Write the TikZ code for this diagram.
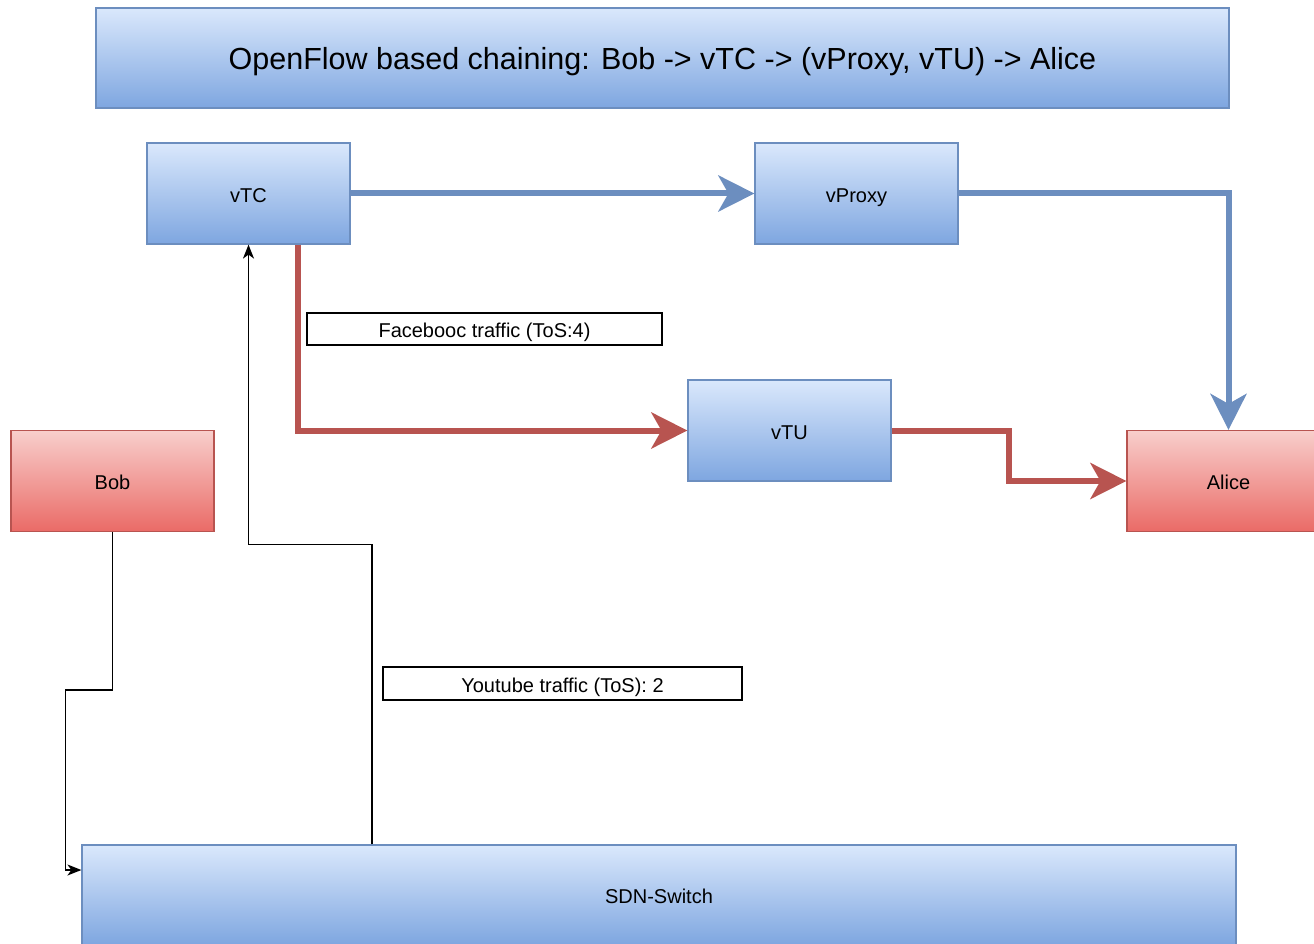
\documentclass[tikz,border=0pt]{standalone}
\usepackage{fontspec}
\setmainfont{Liberation Sans}
\usetikzlibrary{arrows.meta}
\definecolor{blueFillTop}{HTML}{DAE8FC}
\definecolor{blueFillBot}{HTML}{7EA6E0}
\definecolor{blueLine}{HTML}{6C8EBF}
\definecolor{redFillTop}{HTML}{F8CECC}
\definecolor{redFillBot}{HTML}{EA6B66}
\definecolor{redLine}{HTML}{B85450}
\tikzset{
  textfit/.style={text height=22pt, text depth=4.6pt, font=\fontsize{20}{24}\selectfont},
  box/.style={rectangle, inner sep=0pt, minimum width=203pt, minimum height=101pt,
    textfit, line width=1.2pt},
  bluebox/.style={box, draw=blueLine, top color=blueFillTop, bottom color=blueFillBot},
  redbox/.style={box, draw=redLine, top color=redFillTop, bottom color=redFillBot},
  tagbox/.style={rectangle, draw=black, fill=white, line width=1.5pt, inner sep=0pt, textfit},
  bigflow/.style={line width=6pt, -{Stealth[length=36pt, width=36pt, inset=10pt]}},
  blueflow/.style={bigflow, draw=blueLine},
  redflow/.style={bigflow, draw=redLine},
  thinflow/.style={line width=1.5pt, draw=black, -{Stealth[length=14pt, width=11pt, inset=4pt]}}
}
\begin{document}
\begin{tikzpicture}[x=1pt, y=-1pt]
  \useasboundingbox (0,0) rectangle (1314,944);

  % header banner
  \node[bluebox, minimum width=1133pt, minimum height=100pt,
        font=\fontsize{30.5}{36}\selectfont, text height=30pt, text depth=6.2pt]
    (title) at (662.5,58) {OpenFlow based chaining: Bob -> vTC -> (vProxy, vTU) -> Alice};

  % service functions and endpoints
  \node[bluebox] (vTC) at (248.5,193.5) {vTC};
  \node[bluebox] (vProxy) at (856.5,193.5) {vProxy};
  \node[bluebox] (vTU) at (789.5,430.5) {vTU};
  \node[redbox] (Bob) at (112.5,481) {Bob};
  \node[redbox] (Alice) at (1228.5,481) {Alice};
  \node[bluebox, minimum width=1154pt, minimum height=100pt] (SDN) at (659,895) {SDN-Switch};

  % default chain through the proxy
  \draw[blueflow] (vTC.east) -- (vProxy.west);
  \draw[blueflow] (vProxy.east) -| (Alice.north);

  % Facebook traffic through the traffic unit
  \draw[redflow] ([xshift=49.5pt]vTC.south) |- (vTU.west);
  \draw[redflow] (vTU.east) -- ++(117,0) |- (Alice.west);

  % switch attachments
  \draw[thinflow] (Bob.south) -- ++(0,158) -- ++(-47,0) |- ([yshift=25pt]SDN.west);
  \draw[thinflow] ([xshift=-287pt]SDN.north) -- ++(0,-300) -| (vTC.south);

  % traffic class labels
  \node[tagbox, minimum width=355pt, minimum height=32pt] (fb) at (484.5,329) {Facebooc traffic (ToS:4)};
  \node[tagbox, minimum width=359pt, minimum height=33pt] (yt) at (562.5,683.5) {Youtube traffic (ToS): 2};
\end{tikzpicture}
\end{document}
